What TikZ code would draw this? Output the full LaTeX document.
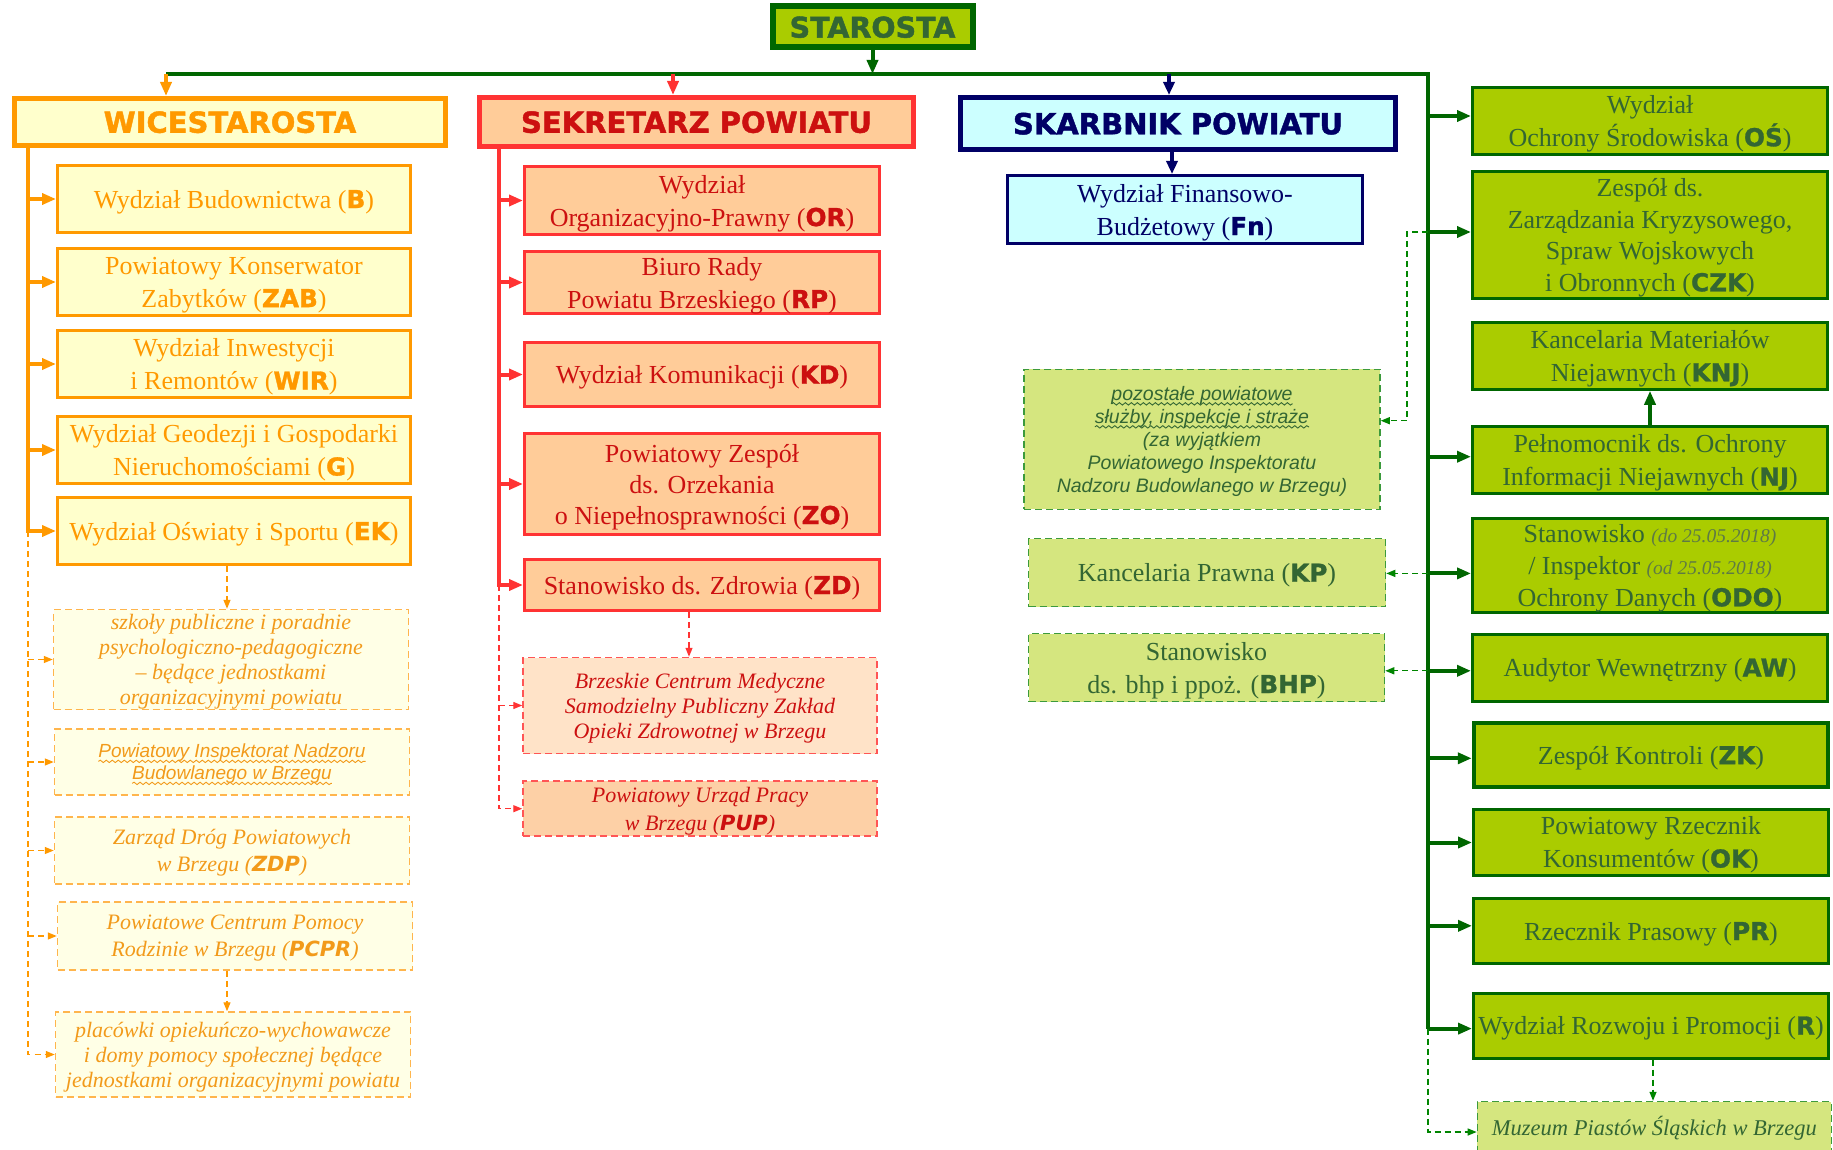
\documentclass[tikz,border=0pt]{standalone}
\usepackage{fontspec}
\setmainfont{Liberation Serif}
\setsansfont{Liberation Sans}
\newfontfamily\dvb{DejaVu Sans}[Scale=0.95, BoldFeatures={FakeBold=1.2}]
\newfontfamily\hdr{DejaVu Sans}[BoldFeatures={FakeBold=1.5}]
\usetikzlibrary{arrows.meta,decorations.pathmorphing}
\definecolor{og}{HTML}{FF9900}
\definecolor{oyel}{HTML}{FFFFCC}
\definecolor{olite}{HTML}{FFFFE6}
\definecolor{odashc}{HTML}{FFB54D}
\definecolor{otext}{HTML}{F29A1A}
\definecolor{rd}{HTML}{FF3333}
\definecolor{rtext}{HTML}{CC1010}
\definecolor{peach}{HTML}{FFCC99}
\definecolor{peachlite}{HTML}{FFE3C8}
\definecolor{peachmid}{HTML}{FDD0A6}
\definecolor{rdashc}{HTML}{FF5555}
\definecolor{navy}{HTML}{000066}
\definecolor{cyanf}{HTML}{CCFFFF}
\definecolor{dg}{HTML}{006600}
\definecolor{gfill}{HTML}{AACC00}
\definecolor{gtext}{HTML}{336633}
\definecolor{gsmall}{HTML}{5E7A45}
\definecolor{glite}{HTML}{D5E67F}
\definecolor{gdashc}{HTML}{3C9A3C}
\newcommand\cd[1]{{\dvb\bfseries #1}}
\newcommand\cdi[1]{{\dvb\bfseries\itshape #1}}
\newcommand\wv[1]{\tikz[baseline=(w.base)]{\node[rectangle,draw=none,fill=none,inner sep=0pt,outer sep=0pt,minimum width=0pt,minimum height=0pt,text height=,text depth=,anchor=base,solid](w){#1};\draw[solid,line width=0.9pt,decorate,decoration={snake,amplitude=1.2pt,segment length=6pt}] ([yshift=-3.5pt]w.base west) -- ([yshift=-3.5pt]w.base east);}}
\tikzset{
  sz/.style 2 args={minimum width=#1pt, minimum height=#2pt},
  bx/.style={rectangle, inner sep=0pt, align=center, text depth=-1.5pt, font=\fontsize{26}{33}\selectfont},
  hbox/.style={bx, line width=5pt, text depth=-2pt, font=\hdr\bfseries\fontsize{29}{34}\selectfont},
  obox/.style={bx, draw=og, fill=oyel, line width=3pt, text=og},
  odbox/.style={bx, draw=odashc, fill=olite, line width=1.5pt, dash pattern=on 7pt off 4pt, text=otext, text depth=0pt, font=\itshape\fontsize{22}{25}\selectfont},
  rbox/.style={bx, draw=rd, fill=peach, line width=3pt, text=rtext},
  rdbox/.style={bx, draw=rdashc, line width=1.5pt, dash pattern=on 7pt off 4pt, text=rtext, text depth=-2pt, font=\itshape\fontsize{22}{25}\selectfont},
  gbox/.style={bx, draw=dg, fill=gfill, line width=3pt, text=gtext},
  gdbox/.style={bx, draw=gdashc, fill=glite, line width=1.5pt, dash pattern=on 7pt off 4pt, text=gtext},
  nbox/.style={bx, draw=navy, fill=cyanf, line width=3pt, text=navy},
  tipbig/.style={-{Triangle[length=14pt,width=11pt]}},
  tipsm/.style={-{Triangle[length=9pt,width=7pt]}},
  oline/.style={draw=og, line width=4pt, tipbig},
  rline/.style={draw=rd, line width=4pt, tipbig},
  gline/.style={draw=dg, line width=4pt},
  gconn/.style={draw=dg, line width=4pt, tipbig},
  nline/.style={draw=navy, line width=4pt, -{Triangle[length=13pt,width=11pt]}},
  odl/.style={draw=og, line width=1.3pt, dash pattern=on 6pt off 4pt, tipsm},
  rdl/.style={draw=rd, line width=1.3pt, dash pattern=on 6pt off 4pt, tipsm},
  gdl/.style={draw=dg!80!green, line width=1.3pt, dash pattern=on 6pt off 4pt, tipsm},
}
\begin{document}
\begin{tikzpicture}[x=1pt,y=-1pt]
\useasboundingbox (0,0) rectangle (1833,1150);
\fill[white] (0,0) rectangle (1833,1150);

% ---------- headers ----------
\node[hbox, draw=dg, fill=gfill, text=gtext, line width=6pt, sz={200}{41}, font=\hdr\bfseries\fontsize{28.5}{34}\selectfont] (STAR) at (872.5,27) {STAROSTA};
\node[hbox, draw=og, fill=oyel, text=og, sz={431}{47}] (WICE) at (230,122) {WICESTAROSTA};
\node[hbox, draw=rd, fill=peach, text=rtext, sz={434}{49}] (SEKR) at (696.5,122) {SEKRETARZ POWIATU};
\node[hbox, draw=navy, fill=cyanf, text=navy, sz={435}{52}] (SKARB) at (1178,123.5) {SKARBNIK POWIATU};

% ---------- left column ----------
\node[obox, sz={353}{67}] (B) at (234,199) {Wydział Budownictwa (\cd{B})};
\node[obox, sz={353}{67}] (ZAB) at (234,282) {Powiatowy Konserwator\\Zabytków (\cd{ZAB})};
\node[obox, sz={353}{67}] (WIR) at (234,364) {Wydział Inwestycji\\i Remontów (\cd{WIR})};
\node[obox, sz={353}{67}] (G) at (234,450) {Wydział Geodezji i Gospodarki\\Nieruchomościami (\cd{G})};
\node[obox, sz={353}{67}] (EK) at (234,531) {Wydział Oświaty i Sportu (\cd{EK})};
\node[odbox, sz={355}{100}] (SZK) at (231,659.5) {szkoły publiczne i poradnie\\psychologiczno-pedagogiczne\\– będące jednostkami\\organizacyjnymi powiatu};
\node[odbox, sz={355}{66}, text depth=-2pt, font=\sffamily\itshape\fontsize{19}{22}\selectfont] (PINB) at (232,762) {\wv{Powiatowy Inspektorat Nadzoru}\\\wv{Budowlanego w Brzegu}};
\node[odbox, sz={355}{67}, font=\itshape\fontsize{22}{27}\selectfont] (ZDP) at (232,850.5) {Zarząd Dróg Powiatowych\\w Brzegu (\cdi{ZDP})};
\node[odbox, sz={355}{68}, font=\itshape\fontsize{22}{27}\selectfont] (PCPR) at (235,936) {Powiatowe Centrum Pomocy\\Rodzinie w Brzegu (\cdi{PCPR})};
\node[odbox, sz={355}{85}] (PLA) at (233,1054.5) {placówki opiekuńczo-wychowawcze\\i domy pomocy społecznej będące\\jednostkami organizacyjnymi powiatu};

% ---------- middle column ----------
\node[rbox, sz={355}{68}] (OR) at (702,200.5) {Wydział\\Organizacyjno-Prawny (\cd{OR})};
\node[rbox, sz={355}{62}] (RP) at (702,282.5) {Biuro Rady\\Powiatu Brzeskiego (\cd{RP})};
\node[rbox, sz={355}{64}] (KD) at (702,374.5) {Wydział Komunikacji (\cd{KD})};
\node[rbox, sz={355}{101}, font=\fontsize{26}{31}\selectfont] (ZO) at (702,484) {Powiatowy Zespół\\ds. Orzekania\\o Niepełnosprawności (\cd{ZO})};
\node[rbox, sz={355}{51}] (ZD) at (702,585) {Stanowisko ds. Zdrowia (\cd{ZD})};
\node[rdbox, fill=peachlite, sz={354}{96}] (BCM) at (700,705.5) {Brzeskie Centrum Medyczne\\Samodzielny Publiczny Zakład\\Opieki Zdrowotnej w Brzegu};
\node[rdbox, fill=peachmid, sz={354}{55}, text depth=-1.2pt, font=\itshape\fontsize{22}{28}\selectfont] (PUP) at (700,808.7) {Powiatowy Urząd Pracy\\w Brzegu (\cdi{PUP})};

% ---------- skarbnik column ----------
\node[nbox, sz={355}{68}] (Fn) at (1185,209.5) {Wydział Finansowo-\\Budżetowy (\cd{Fn})};
\node[gdbox, sz={356}{140}, text depth=-2pt, font=\sffamily\itshape\fontsize{19.5}{23}\selectfont] (POZ) at (1202,439.3) {\wv{pozostałe powiatowe}\\\wv{służby, inspekcje i straże}\\(za wyjątkiem\\Powiatowego Inspektoratu\\Nadzoru Budowlanego w Brzegu)};
\node[gdbox, sz={357}{68}] (KP) at (1207,572.7) {Kancelaria Prawna (\cd{KP})};
\node[gdbox, sz={356}{68}] (BHP) at (1206.5,667.5) {Stanowisko\\ds. bhp i ppoż. (\cd{BHP})};

% ---------- right column ----------
\node[gbox, sz={355}{67}] (OS) at (1650,120.7) {Wydział\\Ochrony Środowiska (\cd{OŚ})};
\node[gbox, sz={355}{126}, font=\fontsize{26}{31.5}\selectfont] (CZK) at (1650,235) {Zespół ds.\\Zarządzania Kryzysowego,\\Spraw Wojskowych\\i Obronnych (\cd{CZK})};
\node[gbox, sz={355}{67}] (KNJ) at (1650,355.8) {Kancelaria Materiałów\\Niejawnych (\cd{KNJ})};
\node[gbox, sz={355}{67}] (NJ) at (1650,460) {Pełnomocnik ds. Ochrony\\Informacji Niejawnych (\cd{NJ})};
\node[gbox, sz={355}{94}, font=\fontsize{26}{32}\selectfont] (ODO) at (1650,565.3) {Stanowisko {\itshape\fontsize{19.5}{32}\selectfont\color{gsmall}(do 25.05.2018)}\\/ Inspektor {\itshape\fontsize{19.5}{32}\selectfont\color{gsmall}(od 25.05.2018)}\\Ochrony Danych (\cd{ODO})};
\node[gbox, sz={355}{67}] (AW) at (1650,667.5) {Audytor Wewnętrzny (\cd{AW})};
\node[gbox, line width=4.5pt, sz={354}{64}] (ZK) at (1651,755.2) {Zespół Kontroli (\cd{ZK})};
\node[gbox, sz={355}{66}] (OK) at (1651,842) {Powiatowy Rzecznik\\Konsumentów (\cd{OK})};
\node[gbox, sz={355}{65}] (PR) at (1651,931) {Rzecznik Prasowy (\cd{PR})};
\node[gbox, sz={355}{65}] (R) at (1651,1025.5) {Wydział Rozwoju i Promocji (\cd{R})};
\node[gdbox, sz={354}{51}, text depth=3pt, font=\itshape\fontsize{22.5}{26}\selectfont] (MUZ) at (1654.4,1127) {Muzeum Piastów Śląskich w Brzegu};

% ---------- main green line and trunk ----------
\coordinate (gl) at (166,74);
\coordinate (gr) at (1428,74);
\coordinate (tOS) at (1428,116);
\coordinate (tCZK) at (1428,232);
\coordinate (tNJ) at (1428,456.7);
\coordinate (tODO) at (1428,573.4);
\coordinate (tAW) at (1428,670.8);
\coordinate (tZK) at (1428,758.3);
\coordinate (tOK) at (1428,842.5);
\coordinate (tPR) at (1428,925.8);
\coordinate (tR) at (1428,1028.6);
\draw[gline] (gl) -- (gr) -- (tR);
\draw[gconn] (STAR.south) -- (STAR.south |- gl);
\foreach \t/\b in {tOS/OS, tCZK/CZK, tNJ/NJ, tODO/ODO, tAW/AW, tZK/ZK, tOK/OK, tPR/PR, tR/R}
  \draw[gconn] (\t) -- (\t -| \b.west);
\draw[gconn] (NJ.north) -- (KNJ.south);

% ---------- header drops ----------
\draw[oline] (gl) -- (gl |- WICE.north);
\coordinate (rr) at (673,74);
\draw[rline] (rr) -- (rr |- SEKR.north);
\coordinate (nn) at (1169,74);
\draw[nline] (nn) -- (nn |- SKARB.north);
\coordinate (sk) at (1172,152);
\draw[nline] (sk) -- (sk |- Fn.north);

% ---------- orange connectors ----------
\coordinate (ot) at (28,148);
\draw[oline] (ot) |- (EK.west);
\foreach \b in {B, ZAB, WIR, G}
  \draw[oline] (ot |- \b.west) -- (\b.west);
\draw[odl] (ot |- EK.west) |- (PLA.west);
\foreach \b in {SZK, PINB, ZDP, PCPR}
  \draw[odl] (ot |- \b.west) -- (\b.west);
\draw[odl] ([xshift=-7pt]EK.south) -- ([xshift=-7pt]EK.south |- SZK.north);
\draw[odl] ([xshift=-8pt]PCPR.south) -- ([xshift=-8pt]PCPR.south |- PLA.north);

% ---------- red connectors ----------
\coordinate (rt) at (499,149);
\draw[rline] (rt) |- (ZD.west);
\foreach \b in {OR, RP, KD, ZO}
  \draw[rline] (rt |- \b.west) -- (\b.west);
\draw[rdl] (rt |- ZD.west) |- (PUP.west);
\draw[rdl] (rt |- BCM.west) -- (BCM.west);
\draw[rdl] ([xshift=-13pt]ZD.south) -- ([xshift=-13pt]ZD.south |- BCM.north);

% ---------- green dashed connectors ----------
\draw[gdl] (tCZK) -- ++(-21,0) |- ([yshift=18.6pt]POZ.east);
\draw[gdl] (tODO) -- (tODO -| KP.east);
\draw[gdl] (tAW) -- (tAW -| BHP.east);
\draw[gdl] (tR) -- (1428,1132) -- (MUZ.west |- 0,1132);
\draw[gdl] ([xshift=2pt]R.south) -- ([xshift=2pt]R.south |- MUZ.north);
\end{tikzpicture}
\end{document}
